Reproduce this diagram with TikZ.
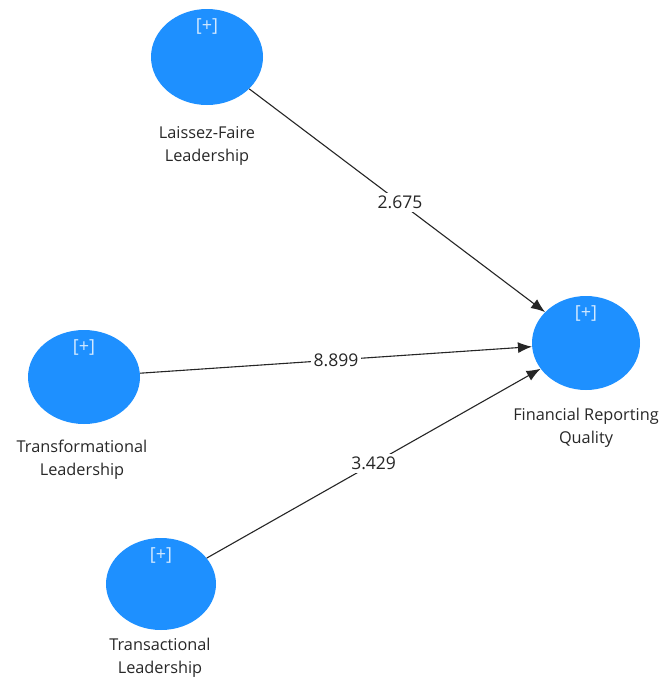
\documentclass[tikz,border=0pt]{standalone}
\usepackage{fontspec}
\setmainfont{Open Sans}
\usetikzlibrary{shapes.geometric,arrows.meta}
\definecolor{lvblue}{RGB}{30,144,255}
\definecolor{txtgray}{RGB}{40,40,40}
\begin{document}
\begin{tikzpicture}[x=1pt,y=-1pt,
  latent/.style={ellipse,fill=lvblue,draw=none,inner sep=0pt,
    label={[anchor=north,yshift=-6pt,text=white!80!lvblue,font=\fontsize{18}{20}\selectfont]north:[+]}},
  caption/.style={align=center,text=txtgray,font=\fontsize{16.3}{23}\selectfont,anchor=north,inner sep=2pt},
  path/.style={draw=black!85,line width=1.1pt,-{Latex[length=14pt,width=11pt]}},
  coef/.style={fill=white,inner sep=3pt,text=black!85,font=\fontsize{17.5}{20}\selectfont}]
\useasboundingbox[fill=white] (0,0) rectangle (661,678);
\node[latent,minimum width=112pt,minimum height=96pt] (lf) at (207,57) {};
\node[latent,minimum width=108pt,minimum height=94pt] (frq) at (586,343) {};
\node[latent,minimum width=112pt,minimum height=94pt] (tf) at (84,377) {};
\node[latent,minimum width=110pt,minimum height=92pt] (ta) at (161,584) {};
\node[caption] (lft) at (207,124) {Laissez-Faire\\Leadership};
\node[caption] (frqt) at (586,406) {Financial Reporting\\Quality};
\node[caption] (tft) at (82,438) {Transformational\\Leadership};
\node[caption] (tat) at (160,636) {Transactional\\Leadership};
\draw[path] (lf) -- node[coef,pos=0.51] (c1) {2.675} (frq);
\draw[path] (tf) -- node[coef,pos=0.5] (c2) {8.899} (frq);
\draw[path] (ta) -- node[coef,pos=0.5] (c3) {3.429} (frq);
\end{tikzpicture}
\end{document}
